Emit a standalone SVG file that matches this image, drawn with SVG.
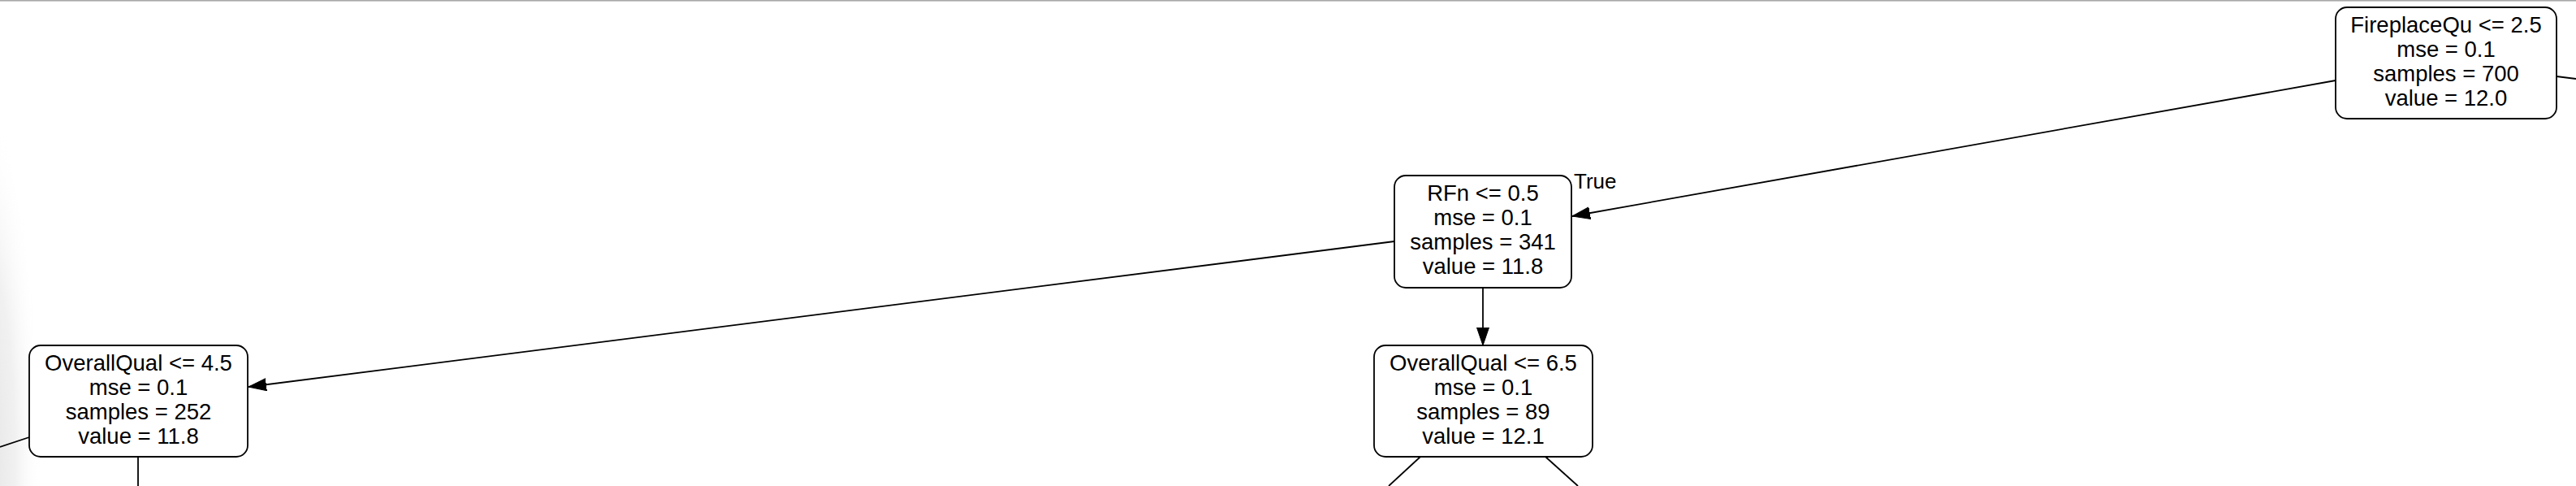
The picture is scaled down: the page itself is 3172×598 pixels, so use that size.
<svg xmlns="http://www.w3.org/2000/svg" width="3172" height="598" viewBox="0 0 3172 598">
<style>
.node rect{fill:#fff;stroke:#000;stroke-width:1.8}
.node text{font-family:"Liberation Sans",Arial,Helvetica,sans-serif;font-size:27.5px;text-anchor:middle;fill:#000}
.edge{stroke:#000;stroke-width:1.8;fill:none}
.lbl{font-family:"Liberation Sans",Arial,Helvetica,sans-serif;font-size:26px;fill:#000}
</style>
<defs>
<marker id="arr" markerUnits="userSpaceOnUse" markerWidth="24" markerHeight="18" refX="22" refY="7.5" orient="auto">
<path d="M0,0 L22,7.5 L0,15 z" fill="#000" stroke="#000" stroke-width="1"/>
</marker>
<radialGradient id="shade" gradientUnits="userSpaceOnUse" cx="-20" cy="560" r="440" gradientTransform="translate(-20,560) scale(0.16,1) translate(20,-560)">
<stop offset="0" stop-color="#e2e2e2" stop-opacity="1"/>
<stop offset="0.55" stop-color="#ededed" stop-opacity="0.8"/>
<stop offset="1" stop-color="#ffffff" stop-opacity="0"/>
</radialGradient>
</defs>
<rect x="0" y="0" width="3172" height="598" fill="#fff"/>
<rect x="0" y="100" width="90" height="498" fill="url(#shade)"/>
<rect x="0" y="0" width="3172" height="1.6" fill="#a9a9a9"/>
<g id="connectors">
<path class="edge" d="M2876,99 L1936,266" marker-end="url(#arr)"/>
<path class="edge" d="M1717,297 L306,476" marker-end="url(#arr)"/>
<path class="edge" d="M1826,354 L1826,425" marker-end="url(#arr)"/>
<path class="edge" d="M3148,94 L3172,97"/>
<path class="edge" d="M36,538 L0,550"/>
<path class="edge" d="M170,562 L170,598"/>
<path class="edge" d="M1749,562 L1710,598"/>
<path class="edge" d="M1903,562 L1943,598"/>
<text class="lbl" x="1938" y="232">True</text>
</g>
<g id="node0" class="node">
<rect x="2876" y="9" width="272" height="137" rx="14" ry="14"/>
<text x="3012" y="39.5">FireplaceQu &lt;= 2.5</text>
<text x="3012" y="69.5">mse = 0.1</text>
<text x="3012" y="99.5">samples = 700</text>
<text x="3012" y="129.5">value = 12.0</text>
</g>
<g id="node1" class="node">
<rect x="1717" y="216" width="218" height="138" rx="14" ry="14"/>
<text x="1826" y="247">RFn &lt;= 0.5</text>
<text x="1826" y="277">mse = 0.1</text>
<text x="1826" y="307">samples = 341</text>
<text x="1826" y="337">value = 11.8</text>
</g>
<g id="node2" class="node">
<rect x="36" y="425" width="269" height="137" rx="14" ry="14"/>
<text x="170.5" y="455.5">OverallQual &lt;= 4.5</text>
<text x="170.5" y="485.5">mse = 0.1</text>
<text x="170.5" y="515.5">samples = 252</text>
<text x="170.5" y="545.5">value = 11.8</text>
</g>
<g id="node3" class="node">
<rect x="1692" y="425" width="269" height="137" rx="14" ry="14"/>
<text x="1826.5" y="455.5">OverallQual &lt;= 6.5</text>
<text x="1826.5" y="485.5">mse = 0.1</text>
<text x="1826.5" y="515.5">samples = 89</text>
<text x="1826.5" y="545.5">value = 12.1</text>
</g>
</svg>
